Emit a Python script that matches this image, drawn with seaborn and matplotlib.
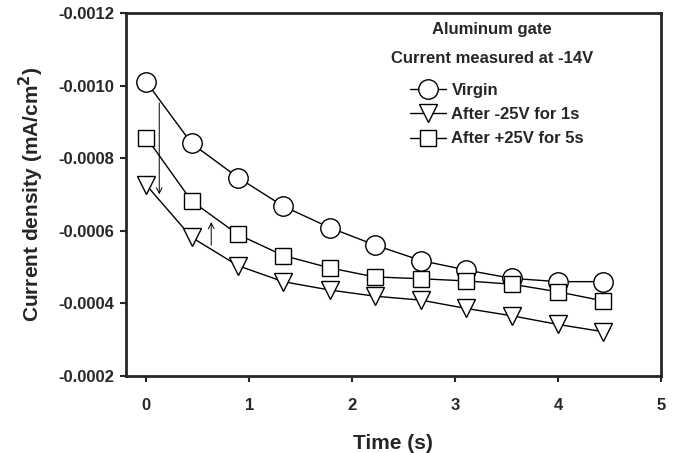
import matplotlib
matplotlib.use("Agg")
import matplotlib.pyplot as plt
from matplotlib.ticker import FormatStrFormatter
import seaborn as sns

# data
time_s = [0, 0.44, 0.89, 1.33, 1.78, 2.22, 2.67, 3.11, 3.55, 4.0, 4.44]
virgin = [-0.00101, -0.000841, -0.000747, -0.000668, -0.000609, -0.000561,
          -0.000518, -0.000492, -0.000469, -0.00046, -0.00046]
after_neg25 = [-0.000726, -0.000582, -0.000504, -0.00046, -0.000437, -0.00042,
               -0.000409, -0.000386, -0.000366, -0.000342, -0.000322]
after_pos25 = [-0.000857, -0.000682, -0.00059, -0.000532, -0.000498, -0.000473,
               -0.000468, -0.000462, -0.000453, -0.000432, -0.000407]
labels = ['Virgin', 'After -25V for 1s', 'After +25V for 5s']
markers = ['o', 'v', 's']
msizes = [14, 13, 12]

# arrows: (x, y_start, y_end)
arrow_down = (0.125, -0.00096, -0.000693)
arrow_up = (0.63, -0.000553, -0.000632)

sns.set_style('ticks')
plt.rcParams['font.family'] = ['Liberation Sans', 'DejaVu Sans']
plt.rcParams['font.weight'] = 'bold'

fig = plt.figure(figsize=(6.8, 4.53), dpi=100)
ax = fig.add_axes([0.185, 0.170, 0.787, 0.801])

for vals, lab, m, ms in zip([virgin, after_neg25, after_pos25], labels, markers, msizes):
    sns.lineplot(x=time_s, y=vals, ax=ax, color='black', lw=1.0, marker=m,
                 markersize=ms, markerfacecolor='white', markeredgecolor='black',
                 markeredgewidth=1.0, label=lab)

for x, y0, y1 in [arrow_down, arrow_up]:
    ax.annotate('', xy=(x, y1), xytext=(x, y0),
                arrowprops=dict(arrowstyle='->', lw=0.7, color='black'))

ax.set_xlim(-0.2, 5)
ax.set_ylim(-0.0002, -0.0012)
ax.set_xticks([0, 1, 2, 3, 4, 5])
ax.set_yticks([-0.0012, -0.0010, -0.0008, -0.0006, -0.0004, -0.0002])
ax.yaxis.set_major_formatter(FormatStrFormatter('%.4f'))
ax.tick_params(direction='out', length=4, width=1.5, labelsize=12)
ax.tick_params(axis='x', pad=12)
ax.tick_params(axis='y', pad=4)
for s in ax.spines.values():
    s.set_linewidth(2)
    s.set_visible(True)

ax.set_xlabel('Time (s)', fontsize=15, fontweight='bold', labelpad=15)
ax.set_ylabel('Current density (mA/cm$^\\mathbf{2}$)', fontsize=15, fontweight='bold', labelpad=9)

ax.text(0.684, 0.954, 'Aluminum gate', transform=ax.transAxes, ha='center', va='center',
        fontsize=12, fontweight='bold')
ax.text(0.684, 0.874, 'Current measured at -14V', transform=ax.transAxes, ha='center',
        va='center', fontsize=12, fontweight='bold')

leg = ax.legend(frameon=False, loc='upper left', bbox_to_anchor=(0.515, 0.83),
                handlelength=2.2, handletextpad=0.3, labelspacing=0.55,
                borderpad=0, prop={'weight': 'bold', 'size': 12})

fig.savefig('out.png', dpi=100)
